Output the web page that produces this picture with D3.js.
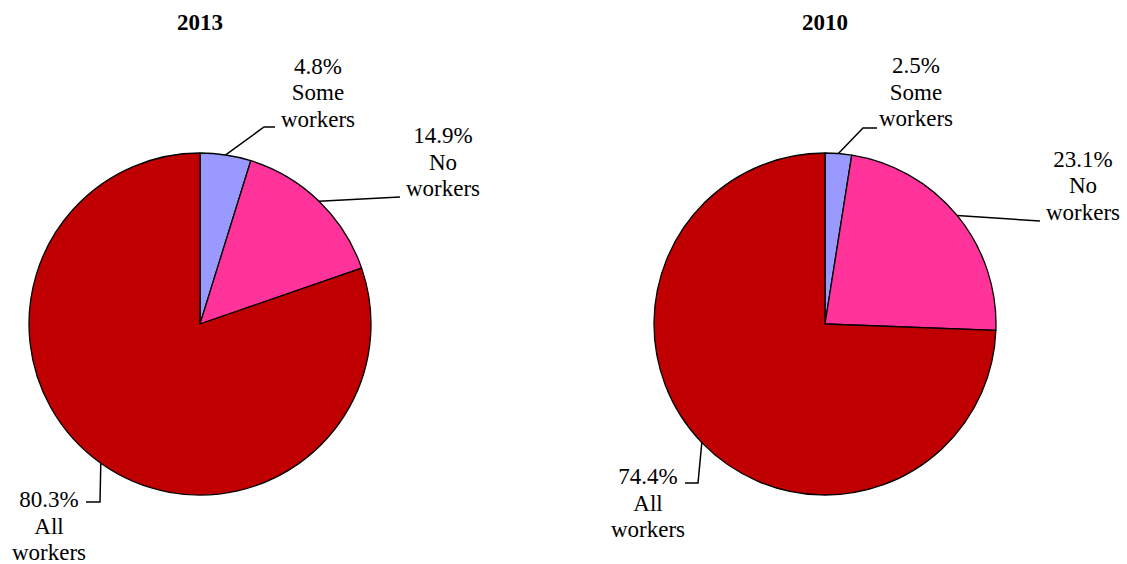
<!DOCTYPE html>
<html>
<head>
<meta charset="utf-8">
<script src="https://cdn.jsdelivr.net/npm/d3@7"></script>
<style>
  html, body { margin: 0; padding: 0; background: #fff; }
  svg { display: block; font-family: "Liberation Serif", Tinos, "Times New Roman", serif; }
  .lbl { font: 23px "Liberation Serif", Tinos, "Times New Roman", serif; }
  .ttl { font: bold 23px "Liberation Serif", Tinos, "Times New Roman", serif; }
</style>
</head>
<body>
<svg id="chart" width="1127" height="564"></svg>
<script>
// Share of households by workers' status
const categories = ["Some workers", "No workers", "All workers"];
const labelLines = [["Some", "workers"], ["No", "workers"], ["All", "workers"]];
const years = ["2013", "2010"];
const values2013 = [4.8, 14.9, 80.3];
const values2010 = [2.5, 23.1, 74.4];
const colors = ["#9999FF", "#FF3399", "#C00000"];

const svg = d3.select("#chart");
const radius = 171;
const lineH = 26.5;

// per-pie layout: center, and for each slice the label anchor (x, first baseline) and leader elbow
const layouts = [
  {
    cx: 200, cy: 324,
    labels: [
      { x: 318, y: 73.5, elbow: [264, 127], end: [275, 127] },
      { x: 443, y: 143, elbow: [400, 197], end: [400, 197] },
      { x: 49, y: 507, elbow: [100, 502], end: [86, 502] }
    ]
  },
  {
    cx: 825, cy: 324,
    labels: [
      { x: 916, y: 73, elbow: [863, 128], end: [877, 128] },
      { x: 1083, y: 166.5, elbow: [1040, 221], end: [1040, 221] },
      { x: 648, y: 484, elbow: [698, 483], end: [685, 483] }
    ]
  }
];

const pie = d3.pie().sort(null).value(d => d);
const arc = d3.arc().innerRadius(0).outerRadius(radius);
const allArcs = [values2013, values2010].map(v => pie(v));

// pies and leader lines
const marks = svg.append("g");
allArcs.forEach((arcs, i) => {
  const L = layouts[i];
  const g = marks.append("g").attr("transform", `translate(${L.cx},${L.cy})`);

  g.selectAll("path")
    .data(arcs)
    .join("path")
    .attr("d", arc)
    .attr("fill", (d, j) => colors[j])
    .attr("stroke", "#000")
    .attr("stroke-width", 1.3)
    .attr("stroke-linejoin", "round");

  arcs.forEach((d, j) => {
    const lab = L.labels[j];
    const mid = (d.startAngle + d.endAngle) / 2;
    const ax = L.cx + radius * Math.sin(mid);
    const ay = L.cy - radius * Math.cos(mid);
    marks.append("path")
      .attr("d", d3.line()([[ax, ay], lab.elbow, lab.end]))
      .attr("fill", "none")
      .attr("stroke", "#000")
      .attr("stroke-width", 1.5);
  });
});

// titles and slice labels
const texts = svg.append("g");
allArcs.forEach((arcs, i) => {
  const L = layouts[i];
  texts.append("text")
    .attr("class", "ttl")
    .attr("x", L.cx).attr("y", 30)
    .attr("text-anchor", "middle")
    .text(years[i]);

  arcs.forEach((d, j) => {
    const lab = L.labels[j];
    const lines = [d3.format(".1f")(d.data) + "%", ...labelLines[j]];
    lines.forEach((s, k) => {
      texts.append("text")
        .attr("class", "lbl")
        .attr("x", lab.x).attr("y", lab.y + k * lineH)
        .attr("text-anchor", "middle")
        .text(s);
    });
  });
});
</script>
</body>
</html>
